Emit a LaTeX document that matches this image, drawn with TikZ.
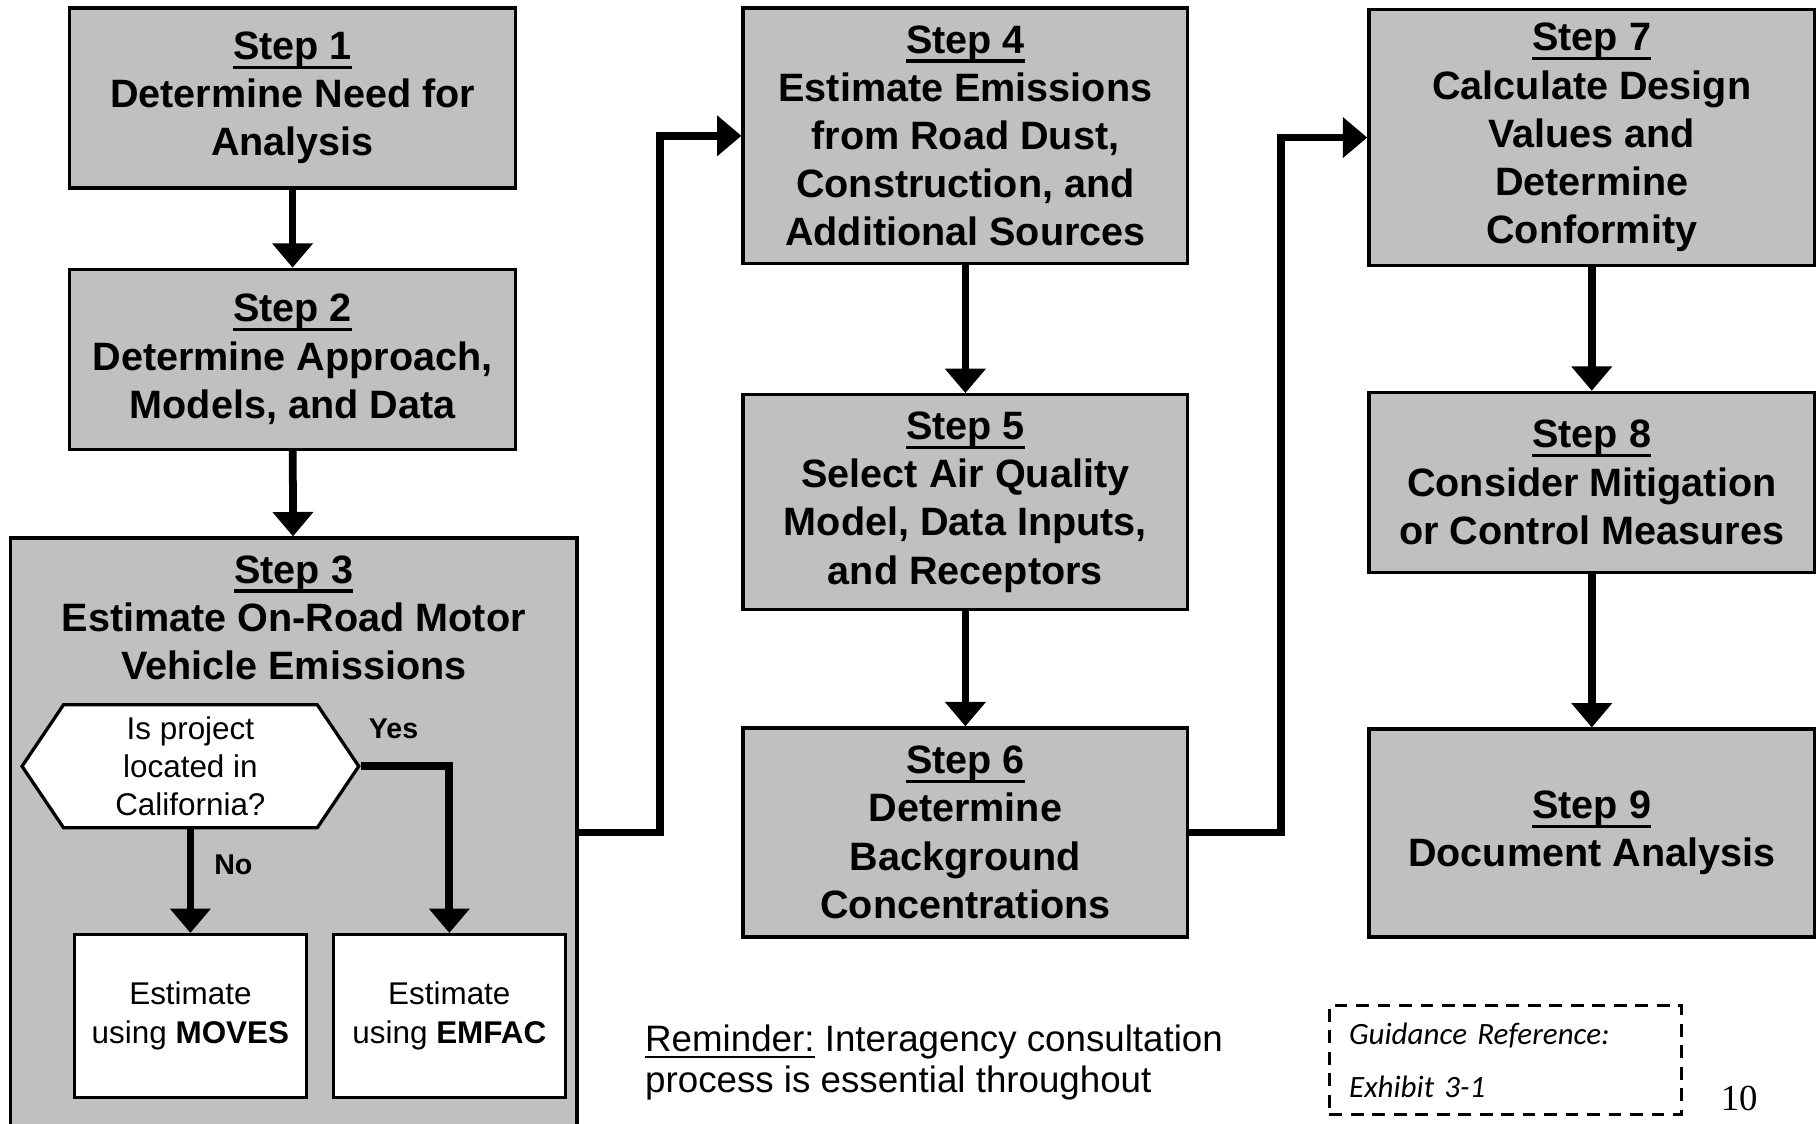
\documentclass[tikz,border=0pt]{standalone}
\usepackage{fontspec}
\setmainfont{Liberation Sans}
\newfontfamily\guidefont{Carlito}
\newfontfamily\pagefont{Liberation Serif}
\usetikzlibrary{arrows.meta,shapes.symbols}
\definecolor{boxgray}{RGB}{192,192,192}
% underlined step title
\newcommand{\steplbl}[1]{\setbox0\hbox{#1}\rlap{\rule[-2.3pt]{\wd0}{0.8pt}}\box0}

\begin{document}
\begin{tikzpicture}
\tikzset{
	lbl/.style={align=center, inner sep=0pt, font=\bfseries\fontsize{9.7}{11.8}\selectfont},
	box/.style={lbl, draw=black, fill=boxgray, line width=0.8pt},
	wbox/.style={draw=black, fill=white, line width=0.8pt, align=center, inner sep=0pt, font=\fontsize{7.7}{9.4}\selectfont},
	yn/.style={inner sep=0pt, font=\bfseries\fontsize{7}{8.4}\selectfont},
	arr/.style={line width=1.9pt, -{Triangle[width=3.4mm,length=2.1mm]}}
}
\useasboundingbox (0,0) rectangle (15.65,9.68);

% step 1 - 3
\node[box, minimum width=3.84cm, minimum height=1.55cm] (s_1) at(2.52,8.835) {\steplbl{Step 1}\\Determine Need for\\Analysis};
\node[box, minimum width=3.84cm, minimum height=1.55cm] (s_2) at(2.52,6.585) {\steplbl{Step 2}\\Determine Approach,\\Models, and Data};
\node[box, minimum width=4.88cm, minimum height=5.3cm, anchor=north] (s_3) at(2.53,5.06) {};
\node[lbl] (t_3) at(2.53,4.36) {\steplbl{Step 3}\\Estimate On-Road Motor\\Vehicle Emissions};

% inside step 3
\node[wbox, signal, signal to=east and west, signal pointer angle=112, minimum width=2.9cm, minimum height=1.06cm] (q_ca) at(1.64,3.08) {Is project\\located in\\California?};
\node[wbox, minimum width=2.0cm, minimum height=1.4cm] (e_moves) at(1.64,0.93) {Estimate\\using \textbf{MOVES}};
\node[wbox, minimum width=2.0cm, minimum height=1.4cm] (e_emfac) at(3.87,0.93) {Estimate\\using \textbf{EMFAC}};
\node[yn] (l_yes) at(3.39,3.40) {Yes};
\node[yn] (l_no) at(2.01,2.23) {No};

% step 4 - 6
\node[box, minimum width=3.83cm, minimum height=2.2cm] (s_4) at(8.315,8.51) {\steplbl{Step 4}\\Estimate Emissions\\from Road Dust,\\Construction, and\\Additional Sources};
\node[box, minimum width=3.83cm, minimum height=1.85cm] (s_5) at(8.315,5.355) {\steplbl{Step 5}\\Select Air Quality\\Model, Data Inputs,\\and Receptors};
\node[box, minimum width=3.83cm, minimum height=1.8cm] (s_6) at(8.315,2.51) {\steplbl{Step 6}\\Determine\\Background\\Concentrations};

% step 7 - 9
\node[box, minimum width=3.84cm, minimum height=2.21cm] (s_7) at(13.71,8.495) {\steplbl{Step 7}\\Calculate Design\\Values and\\Determine\\Conformity};
\node[box, minimum width=3.84cm, minimum height=1.55cm] (s_8) at(13.71,5.525) {\steplbl{Step 8}\\Consider Mitigation\\or Control Measures};
\node[box, minimum width=3.84cm, minimum height=1.79cm] (s_9) at(13.71,2.505) {\steplbl{Step 9}\\Document Analysis};

% notes
\node[anchor=west, align=left, inner sep=0pt, font=\fontsize{9}{10.2}\selectfont] (n_rem) at(5.55,0.53) {\underline{Reminder:} Interagency consultation\\process is essential throughout};
\node[draw=black, line width=0.8pt, dash pattern=on 1.1mm off 0.75mm, minimum width=3.03cm, minimum height=0.94cm, text width=2.69cm, inner xsep=0.17cm, inner ysep=0pt, align=left, font=\guidefont\itshape\fontsize{7.6}{13}\selectfont] (n_ref) at(12.965,0.55) {Guidance Reference:\\Exhibit 3-1};
\node[inner sep=0pt, font=\pagefont\fontsize{9}{10}\selectfont] (n_pg) at(14.98,0.22) {10};

% connectors
\draw[arr] (s_1) -- (s_2);
\draw[arr] (s_2) -- (s_3);
\draw[arr] (q_ca.south) -- (e_moves.north);
\draw[arr] (q_ca.east) -| (e_emfac.north);
\draw[arr] (s_3.east |- s_6.west) -- ++(0.70,0) |- (s_4.west);
\draw[arr] (s_4) -- (s_5);
\draw[arr] (s_5) -- (s_6);
\draw[arr] (s_6.east) -- ++(0.79,0) |- (s_7.west);
\draw[arr] (s_7) -- (s_8);
\draw[arr] (s_8) -- (s_9);

\end{tikzpicture}
\end{document}
